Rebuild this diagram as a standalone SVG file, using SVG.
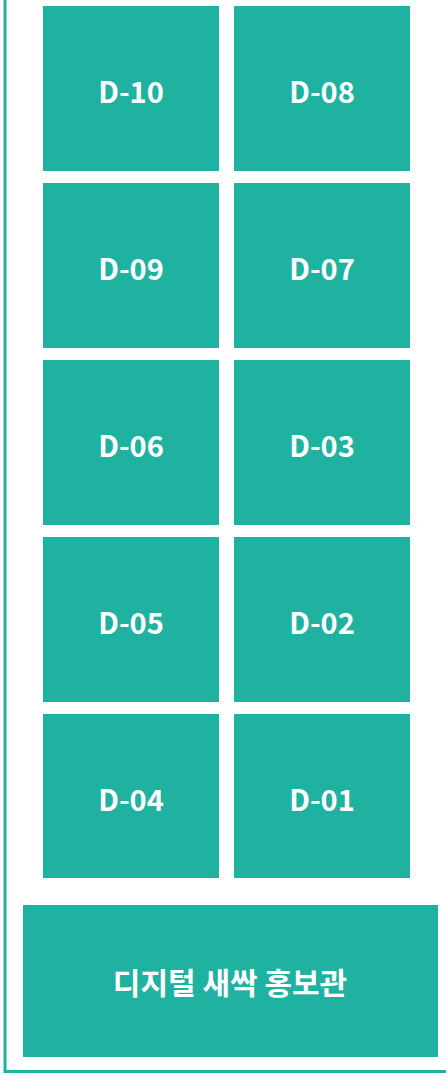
<svg xmlns="http://www.w3.org/2000/svg" width="446" height="1085" viewBox="0 0 446 1085">
<style>
.b{fill:#20B2A0}
.t{fill:#ffffff;font-family:"Noto Sans CJK KR","Noto Sans",sans-serif;font-weight:bold;font-size:29px;text-anchor:middle;dominant-baseline:central}
.k{font-size:30px}
.f{fill:none;stroke:#20B2A0;stroke-width:3}
</style>
<rect width="446" height="1085" fill="#ffffff"/>
<g id="frame"><path class="f" d="M5,0 V1071.5 H446"/></g>
<g id="D-10"><rect class="b" x="43" y="6" width="176" height="165"/><text class="t" x="131" y="90">D-10</text></g>
<g id="D-08"><rect class="b" x="234" y="6" width="176" height="165"/><text class="t" x="322" y="90">D-08</text></g>
<g id="D-09"><rect class="b" x="43" y="183" width="176" height="165"/><text class="t" x="131" y="267">D-09</text></g>
<g id="D-07"><rect class="b" x="234" y="183" width="176" height="165"/><text class="t" x="322" y="267">D-07</text></g>
<g id="D-06"><rect class="b" x="43" y="360" width="176" height="165"/><text class="t" x="131" y="444">D-06</text></g>
<g id="D-03"><rect class="b" x="234" y="360" width="176" height="165"/><text class="t" x="322" y="444">D-03</text></g>
<g id="D-05"><rect class="b" x="43" y="537" width="176" height="165"/><text class="t" x="131" y="621">D-05</text></g>
<g id="D-02"><rect class="b" x="234" y="537" width="176" height="165"/><text class="t" x="322" y="621">D-02</text></g>
<g id="D-04"><rect class="b" x="43" y="714" width="176" height="164"/><text class="t" x="131" y="798">D-04</text></g>
<g id="D-01"><rect class="b" x="234" y="714" width="176" height="164"/><text class="t" x="322" y="798">D-01</text></g>
<g id="hall"><rect class="b" x="23" y="905" width="415" height="152"/><text class="t k" x="230" y="981">디지털 새싹 홍보관</text></g>
<g id="connectors"></g>
</svg>
